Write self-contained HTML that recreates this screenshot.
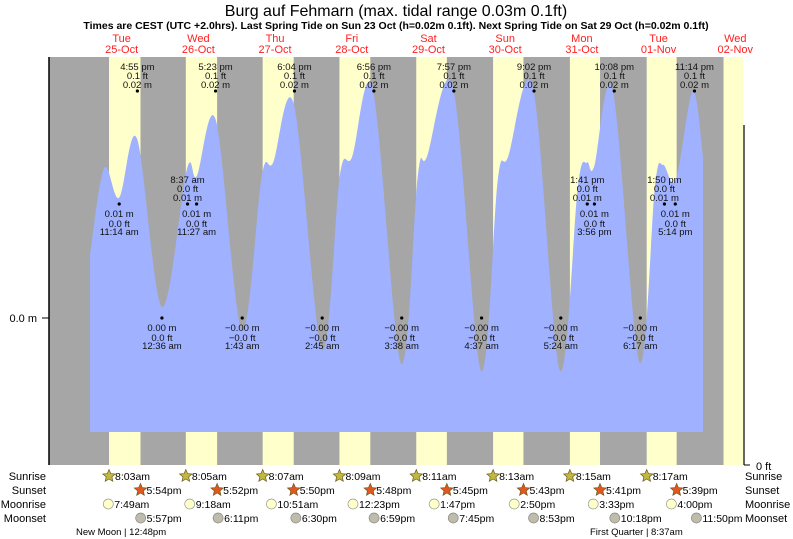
<!DOCTYPE html>
<html><head><meta charset="utf-8"><style>
body{margin:0;background:#fff;}
svg{display:block;font-family:"Liberation Sans",sans-serif;}
</style></head><body>
<svg id="chart" width="793" height="539" viewBox="0 0 793 539" xmlns="http://www.w3.org/2000/svg">
<text x="396" y="16" text-anchor="middle" font-size="16" fill="#000">Burg auf Fehmarn (max. tidal range 0.03m 0.1ft)</text>
<text x="396" y="29" text-anchor="middle" font-size="10.5" font-weight="bold" fill="#000">Times are CEST (UTC +2.0hrs). Last Spring Tide on Sun 23 Oct (h=0.02m 0.1ft). Next Spring Tide on Sat 29 Oct (h=0.02m 0.1ft)</text>
<g id="plot"></g>
</svg>
<script>
// time axis: hours from midnight 25-Oct
const dayNames = ["Tue","Wed","Thu","Fri","Sat","Sun","Mon","Tue","Wed"];
const dayDates = ["25-Oct","26-Oct","27-Oct","28-Oct","29-Oct","30-Oct","31-Oct","01-Nov","02-Nov"];
const sunriseH = [8.05,8.08,8.12,8.15,8.18,8.22,8.25,8.28,8.32];
const sunsetH = [17.9,17.87,17.83,17.8,17.75,17.72,17.68,17.65,17.62];
const sunriseLbl = ["8:03am","8:05am","8:07am","8:09am","8:11am","8:13am","8:15am","8:17am"];
const sunsetLbl = ["5:54pm","5:52pm","5:50pm","5:48pm","5:45pm","5:43pm","5:41pm","5:39pm"];
const moonriseH = [7.82,9.3,10.85,12.38,13.78,14.83,15.55,16.0];
const moonriseLbl = ["7:49am","9:18am","10:51am","12:23pm","1:47pm","2:50pm","3:33pm","4:00pm"];
const moonsetH = [17.95,18.18,18.5,18.98,19.75,20.88,22.3,23.83];
const moonsetLbl = ["5:57pm","6:11pm","6:30pm","6:59pm","7:45pm","8:53pm","10:18pm","11:50pm"];
// tide curve (hours, level in mm)
const curveT = [2.1,6.5,11.2,16.8,24.6,32.4,35.5,41.5,49.6,55.9,59.4,65.9,74.7,80.3,84.1,90.6,99.4,104.7,107.5,115.7,124.4,129.7,132.9,140.7,149.1,154.8,157.6,159.8,165.7,174.0,178.9,181.4,185.4,190.7,193.9];
const curveL = [5.55,13.2,10.6,15.8,0.97,13.1,12.5,17.4,-1.06,12.6,13.7,18.8,-2.8,12.6,14.2,20.1,-4.0,12.6,14.2,20.3,-4.6,12.2,14.2,20.3,-4.6,11.7,13.7,13.3,20.0,-3.9,11.7,13.5,12.2,20.0,14.2];
// tide events
const evT = [11.23,16.92,24.6,32.62,35.45,41.38,49.72,66.07,74.75,90.93,99.63,115.95,124.62,141.03,149.4,157.68,159.93,166.13,174.28,181.83,185.23,191.23];
const evM = [0.01,0.02,0.00,0.01,0.01,0.02,-0.00,0.02,-0.00,0.02,-0.00,0.02,-0.00,0.02,-0.00,0.01,0.01,0.02,-0.00,0.01,0.01,0.02];
const evHigh = [0,1,0,1,0,1,0,1,0,1,0,1,0,1,0,1,0,1,0,1,0,1];
const evLbl = ["11:14 am","4:55 pm","12:36 am","8:37 am","11:27 am","5:23 pm","1:43 am","6:04 pm","2:45 am","6:56 pm","3:38 am","7:57 pm","4:37 am","9:02 pm","5:24 am","1:41 pm","3:56 pm","10:08 pm","6:17 am","1:50 pm","5:14 pm","11:14 pm"];
const evMLbl = ["0.01 m","0.02 m","0.00 m","0.01 m","0.01 m","0.02 m","\u22120.00 m","0.02 m","\u22120.00 m","0.02 m","\u22120.00 m","0.02 m","\u22120.00 m","0.02 m","\u22120.00 m","0.01 m","0.01 m","0.02 m","\u22120.00 m","0.01 m","0.01 m","0.02 m"];
const evFLbl = ["0.0 ft","0.1 ft","0.0 ft","0.0 ft","0.0 ft","0.1 ft","\u22120.0 ft","0.1 ft","\u22120.0 ft","0.1 ft","\u22120.0 ft","0.1 ft","\u22120.0 ft","0.1 ft","\u22120.0 ft","0.0 ft","0.0 ft","0.1 ft","\u22120.0 ft","0.0 ft","0.0 ft","0.1 ft"];

const X0 = 49, X1 = 743, Y0 = 57, Y1 = 465;
const x = h => 83.3 + h * 3.196;
const y = mm => 318 - mm * 11.35;
const NS = "http://www.w3.org/2000/svg";
const g = document.getElementById("plot");
function el(tag, attrs, parent, txt){
  const e = document.createElementNS(NS, tag);
  for (const k in attrs) e.setAttribute(k, attrs[k]);
  if (txt !== undefined) e.textContent = txt;
  (parent || g).appendChild(e);
  return e;
}
// background
let e = el("rect",{x:X0,y:Y0,width:X1-X0,height:Y1-Y0,fill:"#a6a6a6"});


// daylight bands
for (let d = 0; d < dayNames.length; d++) {
  const a = x(d*24 + sunriseH[d]);
  const b = Math.min(X1, x(d*24 + sunsetH[d]));
  if (a >= X1) continue;
  e = el("rect",{x:a,y:Y0,width:b-a,height:Y1-Y0,fill:"#ffffcc"});
  
  
  const cx = x(d*24 + 12);
  e = el("text",{x:cx,y:42,"text-anchor":"middle","font-size":"11",fill:"#ff2020"},g,dayNames[d]);
  
  
  e = el("text",{x:cx,y:53,"text-anchor":"middle","font-size":"11",fill:"#ff2020"},g,dayDates[d]);
  
  
}
// tide curve (Catmull-Rom)
const P = curveT.map((t,i)=>[x(t), y(curveL[i])]);
let d = `M${P[0][0]},432 L${P[0][0]},${P[0][1]}`;
for (let i = 0; i < P.length-1; i++) {
  const p0 = P[Math.max(0,i-1)], p1 = P[i], p2 = P[i+1], p3 = P[Math.min(P.length-1,i+2)];
  const c1 = [p1[0]+(p2[0]-p0[0])/6, p1[1]+(p2[1]-p0[1])/6];
  const c2 = [p2[0]-(p3[0]-p1[0])/6, p2[1]-(p3[1]-p1[1])/6];
  d += ` C${c1[0]},${c1[1]} ${c2[0]},${c2[1]} ${p2[0]},${p2[1]}`;
}
d += ` L${P[P.length-1][0]},432 Z`;
e = el("path",{d:d,fill:"#9fb1ff"});


// event labels
for (let i = 0; i < evT.length; i++) {
  const ex = x(evT[i]), ey = y(evM[i]*1000*0.5*2.27/1.135);
  const dy = evM[i] >= 0.015 ? 91 : (evM[i] >= 0.005 ? 204 : 318);
  e = el("circle",{cx:ex,cy:dy,r:1.6,fill:"#000"});
  
  
  const lines = evHigh[i] ? [evLbl[i], evFLbl[i], evMLbl[i]] : [evMLbl[i], evFLbl[i], evLbl[i]];
  const ys = evHigh[i] ? [dy-21,dy-12,dy-3] : [dy+13,dy+23,dy+31];
  for (let k = 0; k < 3; k++) {
    e = el("text",{x:ex,y:ys[k],"text-anchor":"middle","font-size":"9.5",fill:"#111"},g,lines[k]);
    
    
  }
}
// axes
e = el("line",{x1:X0,y1:Y0,x2:X0,y2:Y1,stroke:"#000","stroke-width":"1.5"});


e = el("line",{x1:42,y1:318,x2:X0,y2:318,stroke:"#000"});


e = el("text",{x:37,y:322,"text-anchor":"end","font-size":"11",fill:"#000"},g,"0.0 m");


e = el("line",{x1:X1+1,y1:125,x2:X1+1,y2:Y1,stroke:"#333","stroke-width":"1.5"});


e = el("line",{x1:X1+1,y1:Y1,x2:X1+7,y2:Y1,stroke:"#000"});


e = el("text",{x:756,y:470,"font-size":"11",fill:"#000"},g,"0 ft");


// bottom rows
const rowNames = ["Sunrise","Sunset","Moonrise","Moonset"];
const rowY = [480,494,508,522];
rowNames.forEach((n,i)=>{
  e = el("text",{x:46,y:rowY[i],"text-anchor":"end","font-size":"11",fill:"#000"},g,n);
  
  
  e = el("text",{x:745,y:rowY[i],"font-size":"11",fill:"#000"},g,n);
  
  
});
function star(cx, cy, fill){
  let pts = [];
  for (let k = 0; k < 10; k++) {
    const r = k%2 ? 3 : 6.5, a = -Math.PI/2 + k*Math.PI/5;
    pts.push((cx + r*Math.cos(a)).toFixed(1)+","+(cy + r*Math.sin(a)).toFixed(1));
  }
  return el("polygon",{points:pts.join(" "),fill:fill,stroke:"#6a5a20","stroke-width":"0.7"});
}
for (let k = 0; k < sunriseLbl.length; k++) {
  let sx = x(k*24 + sunriseH[k]);
  e = star(sx, rowY[0]-4, "#c0b840");
  
  
  e = el("text",{x:sx+6,y:rowY[0],"font-size":"10.5",fill:"#000"},g,sunriseLbl[k]);
  
  
  sx = x(k*24 + sunsetH[k]);
  e = star(sx, rowY[1]-4, "#e05820");
  
  
  e = el("text",{x:sx+6,y:rowY[1],"font-size":"10.5",fill:"#000"},g,sunsetLbl[k]);
  
  
  sx = x(k*24 + moonriseH[k]);
  e = el("circle",{cx:sx,cy:rowY[2]-4,r:5,fill:"#ffffc8",stroke:"#999","stroke-width":"0.7"});
  
  
  e = el("text",{x:sx+6,y:rowY[2],"font-size":"10.5",fill:"#000"},g,moonriseLbl[k]);
  
  
  sx = x(k*24 + moonsetH[k]);
  e = el("circle",{cx:sx,cy:rowY[3]-4,r:5,fill:"#c0bcac",stroke:"#888","stroke-width":"0.7"});
  
  
  e = el("text",{x:sx+6,y:rowY[3],"font-size":"10.5",fill:"#000"},g,moonsetLbl[k]);
  
  
}
e = el("text",{x:76,y:535,"font-size":"9.5",fill:"#000"},g,"New Moon | 12:48pm");


e = el("text",{x:590,y:535,"font-size":"9.5",fill:"#000"},g,"First Quarter | 8:37am");


</script>
</body></html>
